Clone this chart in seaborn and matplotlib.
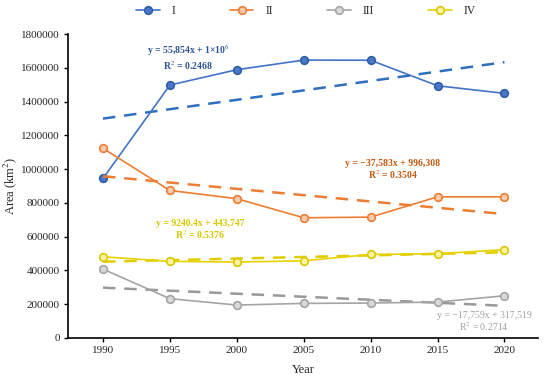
import numpy as np
import pandas as pd
import matplotlib
matplotlib.use("Agg")
import matplotlib.pyplot as plt
import seaborn as sns

years = [1990, 1995, 2000, 2005, 2010, 2015, 2020]
series_names = ["I", "II", "III", "IV"]
area_I = [945000, 1498000, 1589000, 1646000, 1645000, 1494000, 1449000]
area_II = [1123000, 874000, 825000, 712000, 716000, 836000, 836000]
area_III = [408000, 233000, 195000, 205000, 207000, 213000, 250000]
area_IV = [481000, 454000, 450000, 457000, 495000, 499000, 523000]
y_ticks = [0, 200000, 400000, 600000, 800000, 1000000, 1200000, 1400000, 1600000, 1800000]
eq_texts = {
    "I": "y = 55,854x + 1×10$^6$\nR$^2$ = 0.2468",
    "II": "y = −37,583x + 996,308\nR$^2$ = 0.3504",
    "III": "y = −17,759x + 317,519\nR$^2$ = 0.2714",
    "IV": "y = 9240.4x + 443,747\nR$^2$ = 0.5376",
}

sns.set_theme(style="white")
plt.rcParams["font.family"] = ["Liberation Serif", "DejaVu Serif"]
plt.rcParams["mathtext.fontset"] = "stix"

df = pd.DataFrame({"Year": years, "I": area_I, "II": area_II, "III": area_III, "IV": area_IV})

styles = {
    "I": dict(line="#4472C4", face="#4a78c8", edge="#2f5fa8", trend="#2e6fc0", text="#2f5597", bold=True),
    "II": dict(line="#ED7D31", face="#f8cbad", edge="#ED7D31", trend="#ED7D31", text="#c55a11", bold=True),
    "III": dict(line="#A5A5A5", face="#d9d9d9", edge="#A5A5A5", trend="#999999", text="#a0a0a0", bold=False),
    "IV": dict(line="#E6D200", face="#fff3a0", edge="#D9C800", trend="#E0CC00", text="#d6c800", bold=True),
}

fig = plt.figure(figsize=(5.5, 3.83), dpi=100)
ax = fig.add_axes([0.124, 0.1175, 0.854, 0.7935])

handles = []
for name in series_names:
    st = styles[name]
    sns.regplot(data=df, x="Year", y=name, ax=ax, scatter=False, ci=None,
                line_kws=dict(color=st["trend"], lw=1.8, ls=(0, (5, 3.5))))
    sns.lineplot(data=df, x="Year", y=name, ax=ax, color=st["line"], lw=1.2,
                 marker="o", markersize=5.5, markerfacecolor=st["face"],
                 markeredgecolor=st["edge"], markeredgewidth=1.2)
    h, = ax.plot([], [], color=st["line"], lw=1.2, marker="o", markersize=5.5,
                 markerfacecolor=st["face"], markeredgecolor=st["edge"], markeredgewidth=1.2)
    handles.append(h)

ax.set_xlim(1987.4, 2022.5)
ax.set_ylim(0, 1800000)
ax.set_xticks(years)
ax.set_xticklabels([str(y) for y in years], fontsize=8)
ax.set_yticks(y_ticks)
ax.set_yticklabels([str(v) for v in y_ticks], fontsize=8)
ax.set_xlabel("Year", fontsize=9, labelpad=6)
ax.set_ylabel("Area (km$^2$)", fontsize=9)
ax.yaxis.set_label_coords(-0.104, 0.5)

for s in ["top", "right"]:
    ax.spines[s].set_visible(False)
for s in ["left", "bottom"]:
    ax.spines[s].set_color("black")
    ax.spines[s].set_linewidth(1.2)
ax.tick_params(axis="both", direction="out", length=3, width=1, color="black", pad=3)
ax.tick_params(axis="y", left=True)
ax.tick_params(axis="x", bottom=True)

def fx(px):
    return px / 550
def fy(py):
    return 1 - py / 383

pos = {"I": (188, 57), "II": (393, 170), "III": (484, 322), "IV": (200, 230)}
for name in series_names:
    st = styles[name]
    x, y = pos[name]
    fig.text(fx(x), fy(y), eq_texts[name], ha="center", va="center", fontsize=7,
             color=st["text"], fontweight="bold" if st["bold"] else "normal",
             linespacing=1.1)

fig.legend(handles, series_names, loc="center", bbox_to_anchor=(fx(306), fy(11)), ncol=4,
           frameon=False, fontsize=8.5, columnspacing=4.6, handlelength=2.0, handletextpad=1.0)

fig.savefig("out.png", dpi=100)
